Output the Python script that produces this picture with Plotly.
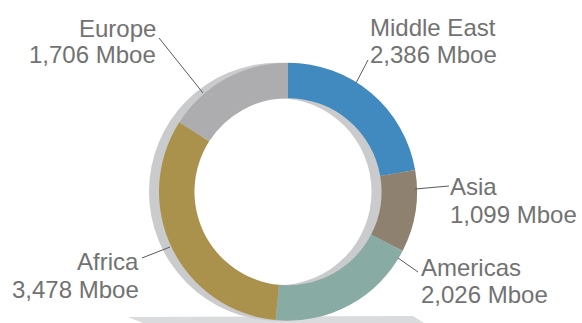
import plotly.graph_objects as go

# Reserves by region (million barrels of oil equivalent)
regions = ["Middle East", "Asia", "Americas", "Africa", "Europe"]
reserves = [2386, 1099, 2026, 3478, 1706]
colors = ["#418abf", "#8f8170", "#88aba4", "#ab924c", "#adadaf"]

W, H = 582, 323

# Ring geometry in pixels
cx, cy, r = 288, 191.7, 129
hole = 0.725
shadow_dx = -10


def domain(center_x, center_y, radius):
    return dict(
        x=[(center_x - radius) / W, (center_x + radius) / W],
        y=[1 - (center_y + radius) / H, 1 - (center_y - radius) / H],
    )


fig = go.Figure()

# Soft shadow ring behind the donut
fig.add_trace(go.Pie(
    values=[1], labels=["shadow"], hole=hole, sort=False,
    marker=dict(colors=["#cacbcd"], line=dict(width=0)),
    textinfo="none", hoverinfo="skip", showlegend=False,
    domain=domain(cx + shadow_dx, cy, r),
))

fig.add_trace(go.Pie(
    values=reserves, labels=regions, hole=hole, sort=False,
    direction="clockwise", rotation=0,
    marker=dict(colors=colors, line=dict(width=0)),
    textinfo="none", showlegend=False,
    domain=domain(cx, cy, r),
))

# Label placement: (x, y of first line, y of second line, anchor)
label_pos = {
    "Middle East": (370, 27.7, 54.3, "left"),
    "Asia": (450, 186.5, 214.5, "left"),
    "Americas": (420.5, 267, 294.5, "left"),
    "Africa": (139, 261.5, 289, "right"),
    "Europe": (156, 28, 54.5, "right"),
}
# Leader lines from label to ring
leaders = {
    "Middle East": [(368, 60), (356, 83)],
    "Asia": [(449, 186), (415, 189)],
    "Americas": [(418, 272), (398, 258)],
    "Africa": [(142, 258), (170, 247)],
    "Europe": [(159, 38), (203, 93)],
}

font = dict(family="Liberation Sans, Arial, sans-serif", size=24, color="#727272")
annotations = []
shapes = []
for name, val in zip(regions, reserves):
    x, y1, y2, anchor = label_pos[name]
    for text, y in ((name, y1), (f"{val:,} Mboe", y2)):
        annotations.append(dict(
            x=x, y=y, xref="x", yref="y", text=text, showarrow=False,
            xanchor=anchor, yanchor="middle", font=font,
            borderpad=0, borderwidth=0,
        ))
    (x0, y0), (x1, y1b) = leaders[name]
    shapes.append(dict(type="line", xref="x", yref="y", x0=x0, y0=y0, x1=x1, y1=y1b,
                       line=dict(color="#5a5a5a", width=1), layer="above"))

# Floor shadow under the ring
shapes.append(dict(
    type="path", xref="x", yref="y", layer="below",
    path="M 128 317 L 413 316 L 424 323 L 143 323 Z",
    fillcolor="#dadbdc", line=dict(width=0),
))

fig.update_layout(
    width=W, height=H,
    margin=dict(l=0, r=0, t=0, b=0),
    paper_bgcolor="white", plot_bgcolor="rgba(0,0,0,0)",
    xaxis=dict(range=[0, W], visible=False, fixedrange=True),
    yaxis=dict(range=[H, 0], visible=False, fixedrange=True),
    annotations=annotations, shapes=shapes,
    showlegend=False,
)

fig.write_html("out.html")
